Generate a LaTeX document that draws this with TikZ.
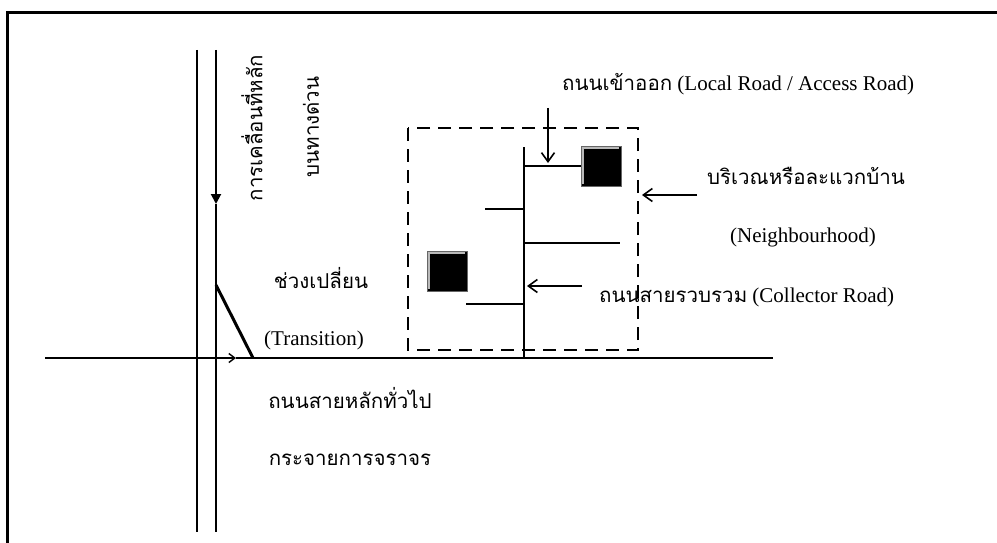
\documentclass[tikz,border=0pt]{standalone}
\usepackage{fontspec}
\setmainfont{Liberation Serif}
\newfontfamily\thaifont[Script=Thai]{Loma}
\usetikzlibrary{arrows.meta}
\newcommand\thsize{\fontsize{20.5}{23}\selectfont}
\tikzset{
  road/.style={line width=2pt},
  frameline/.style={line width=3pt},
  hood/.style={line width=2.4pt, dash pattern=on 13pt off 8pt},
  barb/.style={-{Straight Barb[length=9pt,width=13pt,line width=1.6pt]}, line width=1.6pt},
  smallbarb/.style={-{Straight Barb[length=6pt,width=9pt,line width=1.4pt]}},
  house/.style={fill=black, draw=gray!80!black, line width=1pt, minimum width=40pt, minimum height=40pt, inner sep=0pt},
  lbl/.style={font=\fontsize{21}{24}\selectfont, inner sep=0pt},
  thlbl/.style={font=\thaifont\thsize, inner sep=0pt},
}
\begin{document}
\begin{tikzpicture}[x=1pt,y=-1pt]
\useasboundingbox (0,0) rectangle (997,543);

% outer frame (top and left edges)
\draw[frameline] (7,543) -- (7,13) -- (997,13);

% expressway: two parallel carriageways
\coordinate (wL top) at (197,50);
\coordinate (wL bot) at (197,532);
\coordinate (wR top) at (216,50);
\coordinate (wR tip) at (216,204);
\coordinate (wR bot) at (216,532);
\draw[road] (wL top) -- (wL bot);
\draw[road, -{Triangle[length=10pt,width=10pt]}] (wR top) -- (wR tip);
\draw[road] (wR tip) -- (wR bot);

% arterial road
\coordinate (ar W) at (45,358);
\coordinate (ar tip) at (236,358);
\coordinate (ar E) at (773,358);
\draw[road, smallbarb] (ar W) -- (ar tip);
\draw[road] (ar tip) -- (ar E);

% transition link
\coordinate (tr top) at (216,285);
\coordinate (tr bot) at (253,358);
\draw[line width=3pt] (tr top) -- (tr bot);

% neighbourhood boundary
\draw[hood] (408,128) rectangle (638,350);

% collector road and local branches
\coordinate (col top) at (524,147);
\coordinate (col bot) at (524,358);
\draw[road] (col top) -- (col bot);

\node[house] (h1) at (601,166) {};
\node[house] (h2) at (447,271) {};
\draw[gray!55, line width=1.2pt] ([shift={(2.5,-2.5)}]h1.south west) -- ([shift={(2.5,2.5)}]h1.north west) -- ([shift={(-2.5,2.5)}]h1.north east);
\draw[gray!55, line width=1.2pt] ([shift={(2.5,-2.5)}]h2.south west) -- ([shift={(2.5,2.5)}]h2.north west) -- ([shift={(-2.5,2.5)}]h2.north east);

\coordinate (b1) at (524,166);
\coordinate (b2a) at (485,209);
\coordinate (b2) at (524,209);
\coordinate (b3) at (524,243);
\coordinate (b3e) at (620,243);
\coordinate (b4a) at (466,304);
\coordinate (b4) at (524,304);
\draw[road] (b1) -- (h1.west);
\draw[road] (b2a) -- (b2);
\draw[road] (b3) -- (b3e);
\draw[road] (b4a) -- (b4);

% labels
\node[thlbl, rotate=90] (t main) at (252,128) {การเคลื่อนที่หลัก};
\node[thlbl, rotate=90] (t expr) at (311,127) {บนทางด่วน};
\node[thlbl] (t trans) at (321,278) {ช่วงเปลี่ยน};
\node[lbl] (t transE) at (314,340) {(Transition)};
\node[thlbl] (t art) at (350,398) {ถนนสายหลักทั่วไป};
\node[thlbl] (t art2) at (350,460) {กระจายการจราจร};
\node[lbl, anchor=west] (t local) at (562,84) {{\thaifont\thsize ถนนเข้าออก} (Local Road / Access Road)};
\node[thlbl] (t hood) at (806,176) {บริเวณหรือละแวกบ้าน};
\node[lbl] (t hoodE) at (803,237) {(Neighbourhood)};
\node[lbl, anchor=west] (t col) at (599,297) {{\thaifont\thsize ถนนสายรวบรวม} (Collector Road)};

% pointers
\coordinate (p local s) at (548,108);
\coordinate (p local e) at (548,163);
\draw[barb] (p local s) -- (p local e);
\coordinate (p hood s) at (697,195);
\coordinate (p hood e) at (642,195);
\draw[barb] (p hood s) -- (p hood e);
\coordinate (p col s) at (582,286);
\coordinate (p col e) at (527,286);
\draw[barb] (p col s) -- (p col e);
\end{tikzpicture}
\end{document}
